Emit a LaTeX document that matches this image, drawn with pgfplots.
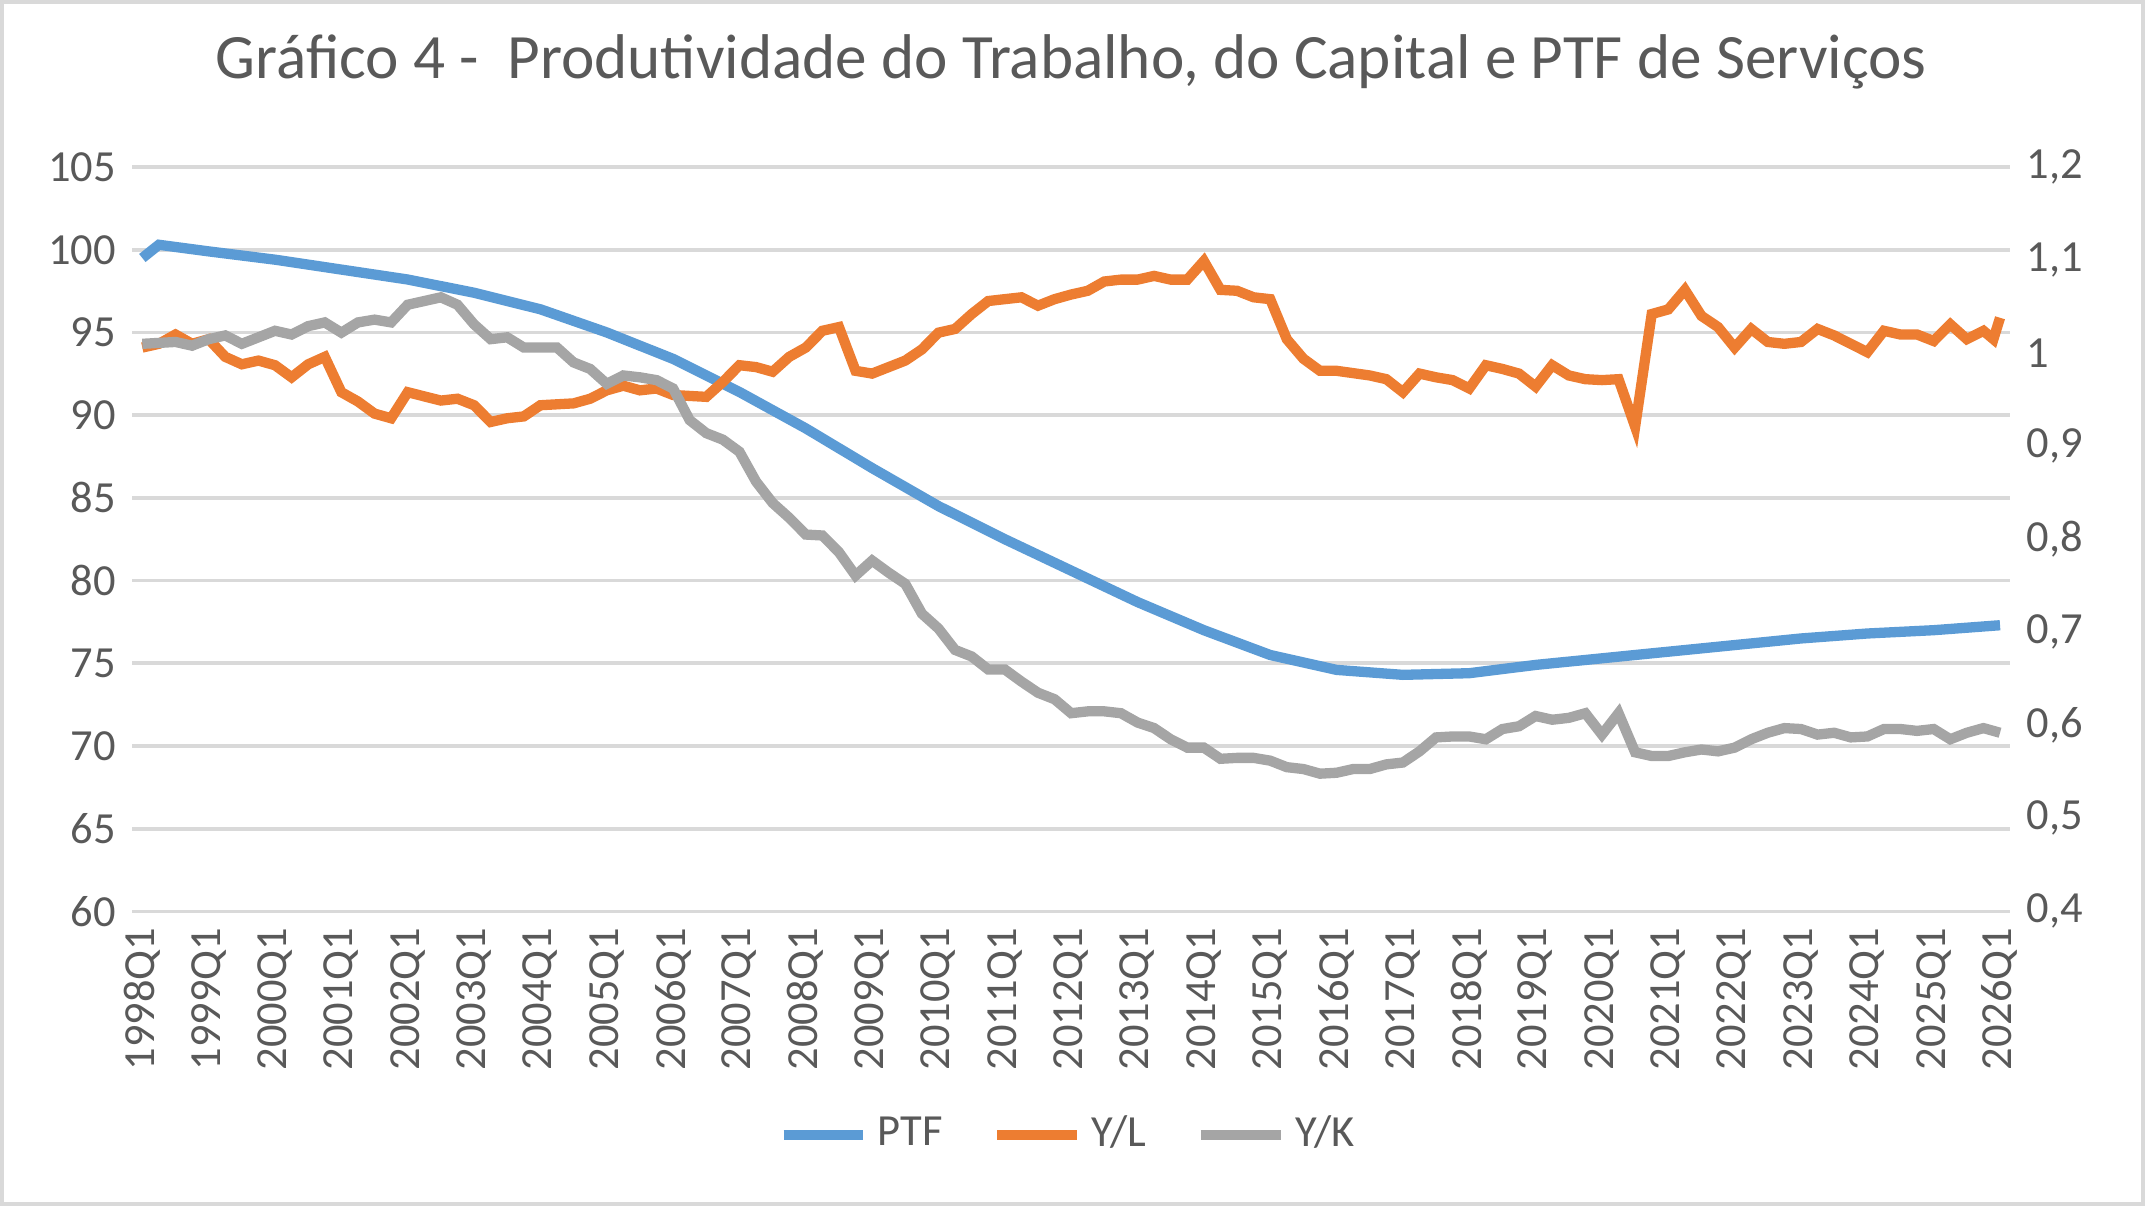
\documentclass[border=0pt]{standalone}
\usepackage{pgfplots}
\pgfplotsset{compat=1.18}
\usepackage{fontspec}
\setmainfont{Carlito}
\definecolor{ptf}{HTML}{5B9BD5}
\definecolor{yl}{HTML}{ED7D31}
\definecolor{yk}{HTML}{A5A5A5}
\definecolor{txt}{HTML}{595959}
\definecolor{grd}{HTML}{D9D9D9}
\begin{document}
\begin{tikzpicture}
\draw[grd,line width=0.8pt,use as bounding box] (-0.98cm,-2.2cm) rectangle (15.1cm,6.83cm);
\pgfplotsset{every axis/.style={scale only axis,width=14.1cm,height=5.59cm,xmin=1997.85,xmax=2026.15,
 axis line style={draw=none},tick style={draw=none},ticklabel style={font=\fontsize{9.5}{9.5}\selectfont,color=txt},
 /pgf/number format/assume math mode=true,
 xtick={1998,...,2026}}}
\begin{axis}[ymin=60,ymax=105,ytick={60,65,...,105},ymajorgrids,major grid style={grd,line width=0.8pt},
 xticklabel={\pgfmathprintnumber[1000 sep=]{\tick}Q1},xticklabel style={rotate=90,anchor=east},
 title={Gráfico 4 -\ \ Produtividade do Trabalho, do Capital e PTF de Serviços},
 title style={font=\fontsize{13.5}{13.5}\selectfont,color=txt,yshift=0.25cm}]
\addplot[ptf,line width=2.2pt] coordinates {(1998,99.5)(1998.25,100.3)(1999,99.9)(2000,99.4)(2001,98.8)(2002,98.2)(2003,97.4)(2004,96.4)(2005,95.0)(2006,93.4)(2007,91.4)(2008,89.2)(2009,86.8)(2010,84.5)(2011,82.5)(2012,80.6)(2013,78.7)(2014,77.0)(2015,75.5)(2016,74.6)(2017,74.3)(2018,74.4)(2019,74.9)(2020,75.3)(2021,75.7)(2022,76.1)(2023,76.5)(2024,76.8)(2025,77.0)(2026,77.3)};
\end{axis}
\begin{axis}[ymin=0.4,ymax=1.2,ytick={0.4,0.5,...,1.2},axis y line*=right,xticklabels={},
 yticklabel style={/pgf/number format/.cd,fixed,use comma,precision=1},
 legend style={at={(0.5,-0.3)},anchor=center,draw=none,legend columns=3,font=\fontsize{9.5}{9.5}\selectfont,text=txt,
 /tikz/every even column/.append style={column sep=0.3cm}},legend image post style={line width=2.2pt}]
\addlegendimage{ptf,line width=2.2pt}\addlegendentry{PTF}
\addplot[yl,line width=2.2pt] coordinates {(1998,1.006)(1998.25,1.010)(1998.5,1.020)(1998.75,1.010)(1999,1.015)(1999.25,0.996)(1999.5,0.988)(1999.75,0.992)(2000,0.987)(2000.25,0.974)(2000.5,0.988)(2000.75,0.996)(2001,0.958)(2001.25,0.948)(2001.5,0.935)(2001.75,0.930)(2002,0.958)(2002.5,0.949)(2002.75,0.951)(2003,0.944)(2003.25,0.926)(2003.5,0.930)(2003.75,0.932)(2004,0.944)(2004.5,0.946)(2004.75,0.951)(2005,0.960)(2005.25,0.965)(2005.5,0.960)(2005.75,0.962)(2006,0.955)(2006.5,0.953)(2006.75,0.969)(2007,0.987)(2007.25,0.985)(2007.5,0.980)(2007.75,0.996)(2008,1.006)(2008.25,1.024)(2008.5,1.028)(2008.75,0.981)(2009,0.978)(2009.5,0.992)(2009.75,1.004)(2010,1.022)(2010.25,1.026)(2010.5,1.042)(2010.75,1.056)(2011,1.058)(2011.25,1.060)(2011.5,1.051)(2011.75,1.058)(2012,1.063)(2012.25,1.067)(2012.5,1.077)(2012.75,1.079)(2013,1.079)(2013.25,1.083)(2013.5,1.079)(2013.75,1.079)(2014,1.099)(2014.25,1.068)(2014.5,1.067)(2014.75,1.060)(2015,1.058)(2015.25,1.015)(2015.5,0.994)(2015.75,0.981)(2016,0.981)(2016.5,0.976)(2016.75,0.972)(2017,0.958)(2017.25,0.978)(2017.5,0.974)(2017.75,0.971)(2018,0.962)(2018.25,0.987)(2018.5,0.983)(2018.75,0.978)(2019,0.964)(2019.25,0.987)(2019.5,0.976)(2019.75,0.972)(2020,0.971)(2020.25,0.972)(2020.5,0.921)(2020.75,1.042)(2021,1.047)(2021.25,1.068)(2021.5,1.040)(2021.75,1.028)(2022,1.006)(2022.25,1.026)(2022.5,1.012)(2022.75,1.010)(2023,1.012)(2023.25,1.026)(2023.5,1.019)(2023.75,1.010)(2024,1.001)(2024.25,1.024)(2024.5,1.020)(2024.75,1.020)(2025,1.013)(2025.25,1.031)(2025.5,1.015)(2025.75,1.024)(2025.9,1.015)(2026,1.038)};
\addlegendentry{Y/L}
\addplot[yk,line width=2.2pt] coordinates {(1998,1.010)(1998.5,1.012)(1998.75,1.008)(1999,1.015)(1999.25,1.019)(1999.5,1.010)(1999.75,1.017)(2000,1.024)(2000.25,1.020)(2000.5,1.029)(2000.75,1.033)(2001,1.022)(2001.25,1.033)(2001.5,1.036)(2001.75,1.033)(2002,1.052)(2002.25,1.056)(2002.5,1.060)(2002.75,1.052)(2003,1.031)(2003.25,1.015)(2003.5,1.017)(2003.75,1.006)(2004,1.006)(2004.25,1.006)(2004.5,0.990)(2004.75,0.983)(2005,0.967)(2005.25,0.976)(2005.5,0.974)(2005.75,0.971)(2006,0.962)(2006.25,0.928)(2006.5,0.914)(2006.75,0.907)(2007,0.894)(2007.25,0.862)(2007.5,0.839)(2007.75,0.823)(2008,0.805)(2008.25,0.804)(2008.5,0.786)(2008.75,0.761)(2009,0.777)(2009.25,0.764)(2009.5,0.752)(2009.75,0.720)(2010,0.704)(2010.25,0.681)(2010.5,0.674)(2010.75,0.660)(2011,0.660)(2011.25,0.647)(2011.5,0.635)(2011.75,0.628)(2012,0.613)(2012.25,0.615)(2012.5,0.615)(2012.75,0.613)(2013,0.603)(2013.25,0.597)(2013.5,0.585)(2013.75,0.576)(2014,0.576)(2014.25,0.564)(2014.5,0.565)(2014.75,0.565)(2015,0.562)(2015.25,0.555)(2015.5,0.553)(2015.75,0.548)(2016,0.549)(2016.25,0.553)(2016.5,0.553)(2016.75,0.558)(2017,0.560)(2017.25,0.572)(2017.5,0.587)(2017.75,0.588)(2018,0.588)(2018.25,0.585)(2018.5,0.596)(2018.75,0.599)(2019,0.610)(2019.25,0.606)(2019.5,0.608)(2019.75,0.613)(2020,0.590)(2020.25,0.613)(2020.5,0.571)(2020.75,0.567)(2021,0.567)(2021.25,0.571)(2021.5,0.574)(2021.75,0.572)(2022,0.576)(2022.25,0.585)(2022.5,0.592)(2022.75,0.597)(2023,0.596)(2023.25,0.590)(2023.5,0.592)(2023.75,0.587)(2024,0.588)(2024.25,0.596)(2024.5,0.596)(2024.75,0.594)(2025,0.596)(2025.25,0.585)(2025.5,0.592)(2025.75,0.597)(2026,0.592)};
\addlegendentry{Y/K}
\end{axis}
\end{tikzpicture}
\end{document}
